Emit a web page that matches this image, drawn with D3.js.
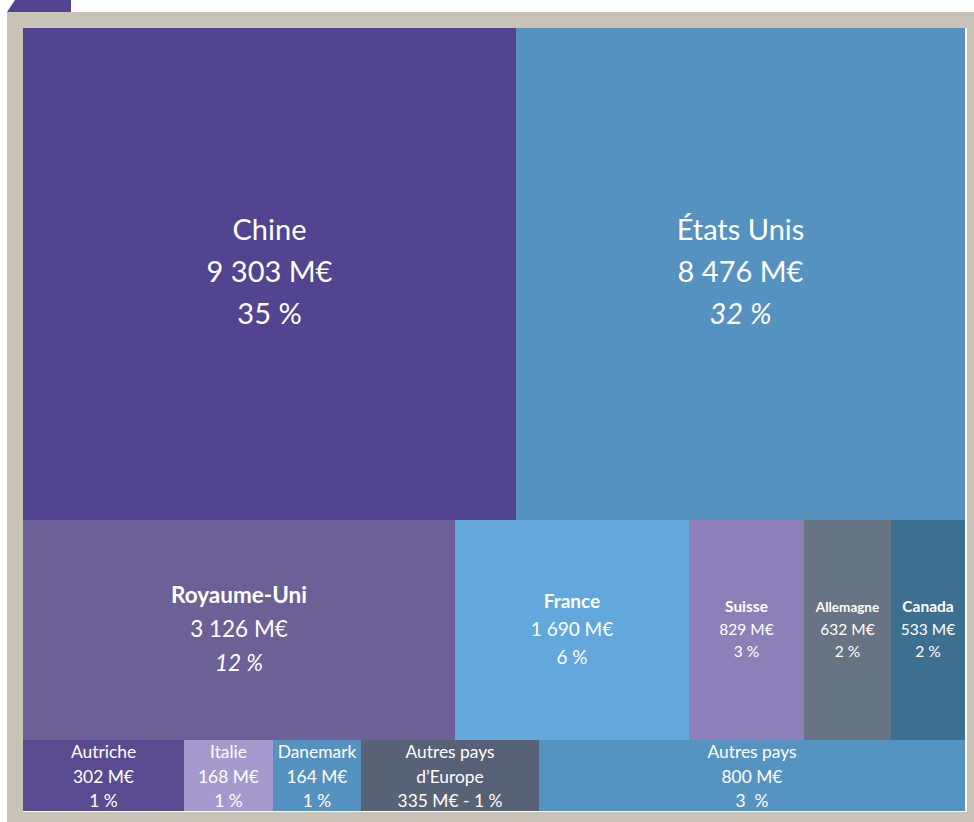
<!DOCTYPE html>
<html lang="fr">
<head>
<meta charset="utf-8">
<title>Répartition par pays</title>
<script src="https://cdn.jsdelivr.net/npm/d3@7"></script>
<style>
  html, body { margin: 0; padding: 0; background: #ffffff; }
  svg { display: block; }
  text { font-family: Lato, "Open Sans", sans-serif; fill: #ffffff; white-space: pre; }
</style>
</head>
<body>
<svg id="chart" width="974" height="822"></svg>
<script>
// Pays (ou regroupements) et montants en millions d'euros
const countries = ["Chine", "États Unis", "Royaume-Uni", "France", "Suisse", "Allemagne", "Canada",
                   "Autriche", "Italie", "Danemark", "Autres pays\nd’Europe", "Autres pays"];
const amounts = [9303, 8476, 3126, 1690, 829, 632, 533, 302, 168, 164, 335, 800];
const shareLabels = ["35 %", "32 %", "12 %", "6 %", "3 %", "2 %", "2 %", "1 %", "1 %", "1 %", "1 %", "3  %"];
// Rangée du pavage dans laquelle chaque pays est placé
const rowIndex = [0, 0, 1, 1, 1, 1, 1, 2, 2, 2, 2, 2];

// Couleurs des pavés
const palette = ["#524490", "#5592bf", "#6d6097", "#63a8dc", "#8d80b9", "#677483", "#3d6f91",
                 "#5a4b91", "#a599cd", "#5592bf", "#576276", "#5593c0"];

// Typographie des étiquettes, par pays : taille, interligne, décalage de ligne de base,
// gras du nom, italique du pourcentage
const labelStyle = {
  "Chine":        { fs: 29, lh: 42, off: 0.28, bold: false, italic: false },
  "États Unis":   { fs: 29, lh: 42, off: 0.28, bold: false, italic: true },
  "Royaume-Uni":  { fs: 22.5, lh: 34, off: 0.32, bold: true,  italic: true },
  "France":       { fs: 19, lh: 28, off: 0.32, bold: true,  italic: false },
  "Suisse":       { fs: 15.5, lh: 22.5, off: 0.32, bold: true, italic: false },
  "Allemagne":    { fs: 15.5, lh: 22.5, off: 0.32, bold: true, italic: false, nameFs: 13.5 },
  "Canada":       { fs: 15.5, lh: 22.5, off: 0.32, bold: true, italic: false },
  default:        { fs: 17.4, lh: 24.5, off: 0.42, bold: false, italic: false }
};

const svg = d3.select("#chart");

// Cadre beige et onglet violet
svg.append("rect").attr("x", 7).attr("y", 12).attr("width", 967).attr("height", 810).attr("fill", "#c9c2b7");
svg.append("path").attr("d", "M15,0 L71,0 L71,12 L7,12 Z").attr("fill", "#524490");

const area = { x: 23, y: 28, w: 942, h: 783 };
svg.append("rect").attr("x", area.x).attr("y", area.y)
   .attr("width", area.w + 2).attr("height", area.h + 1).attr("fill", "#ffffff");

// Hiérarchie : racine -> rangées -> pays
const rows = d3.groups(countries.map((name, i) => ({
  name, amount: amounts[i], share: shareLabels[i], row: rowIndex[i], color: palette[i]
})), d => d.row);

const root = d3.hierarchy({ children: rows.map(([row, items]) => ({ row, children: items })) })
  .sum(d => d.amount || 0);

// Hauteur des rangées : échelle de puissance sur le total de chaque rangée,
// pour que la rangée du bas garde la place de ses trois lignes de texte
const rowWeight = d3.scalePow().exponent(0.84).domain([0, 1]).range([0, 1]);

function rowsTile(parent, x0, y0, x1, y1) {
  if (parent.depth === 0) {
    const w = parent.children.map(c => rowWeight(c.value));
    const y = d3.scaleLinear().domain([0, d3.sum(w)]).range([y0, y1]);
    let acc = 0;
    parent.children.forEach((c, i) => {
      c.x0 = x0; c.x1 = x1;
      c.y0 = y(acc); acc += w[i]; c.y1 = y(acc);
    });
  } else {
    d3.treemapDice(parent, x0, y0, x1, y1);
  }
}

d3.treemap().size([area.w, area.h]).tile(rowsTile).round(true)(root);

const fr = d3.formatLocale({ decimal: ",", thousands: "\u00a0", grouping: [3], currency: ["", " €"] });
const fmt = fr.format(",");

const g = svg.append("g").attr("transform", `translate(${area.x},${area.y})`);

const leaf = g.selectAll("g.tile").data(root.leaves()).join("g").attr("class", "tile");

leaf.append("rect")
  .attr("x", d => d.x0).attr("y", d => d.y0)
  .attr("width", d => d.x1 - d.x0).attr("height", d => d.y1 - d.y0)
  .attr("fill", d => d.data.color);

leaf.each(function(d) {
  const st = labelStyle[d.data.name] || labelStyle.default;
  const nameLines = d.data.name.split("\n");
  const value = `${fmt(d.data.amount)} M€`;
  let lines;
  if (nameLines.length > 1) {
    lines = [
      ...nameLines.map(t => ({ t, kind: "name" })),
      { t: `${value} - ${d.data.share}`, kind: "value" }
    ];
  } else {
    lines = [
      { t: nameLines[0], kind: "name" },
      { t: value, kind: "value" },
      { t: d.data.share, kind: "pct" }
    ];
  }
  const cx = (d.x0 + d.x1) / 2;
  const cy = (d.y0 + d.y1) / 2;
  const n = lines.length;
  const sel = d3.select(this);
  lines.forEach((ln, i) => {
    const fs = ln.kind === "name" && st.nameFs ? st.nameFs : st.fs;
    sel.append("text")
      .attr("x", cx)
      .attr("y", cy + (i - (n - 1) / 2) * st.lh + st.off * st.fs)
      .attr("text-anchor", "middle")
      .attr("font-size", fs)
      .attr("font-weight", ln.kind === "name" && st.bold ? 700 : 400)
      .attr("font-style", ln.kind === "pct" && st.italic ? "italic" : "normal")
      .text(ln.t);
  });
});
</script>
</body>
</html>
